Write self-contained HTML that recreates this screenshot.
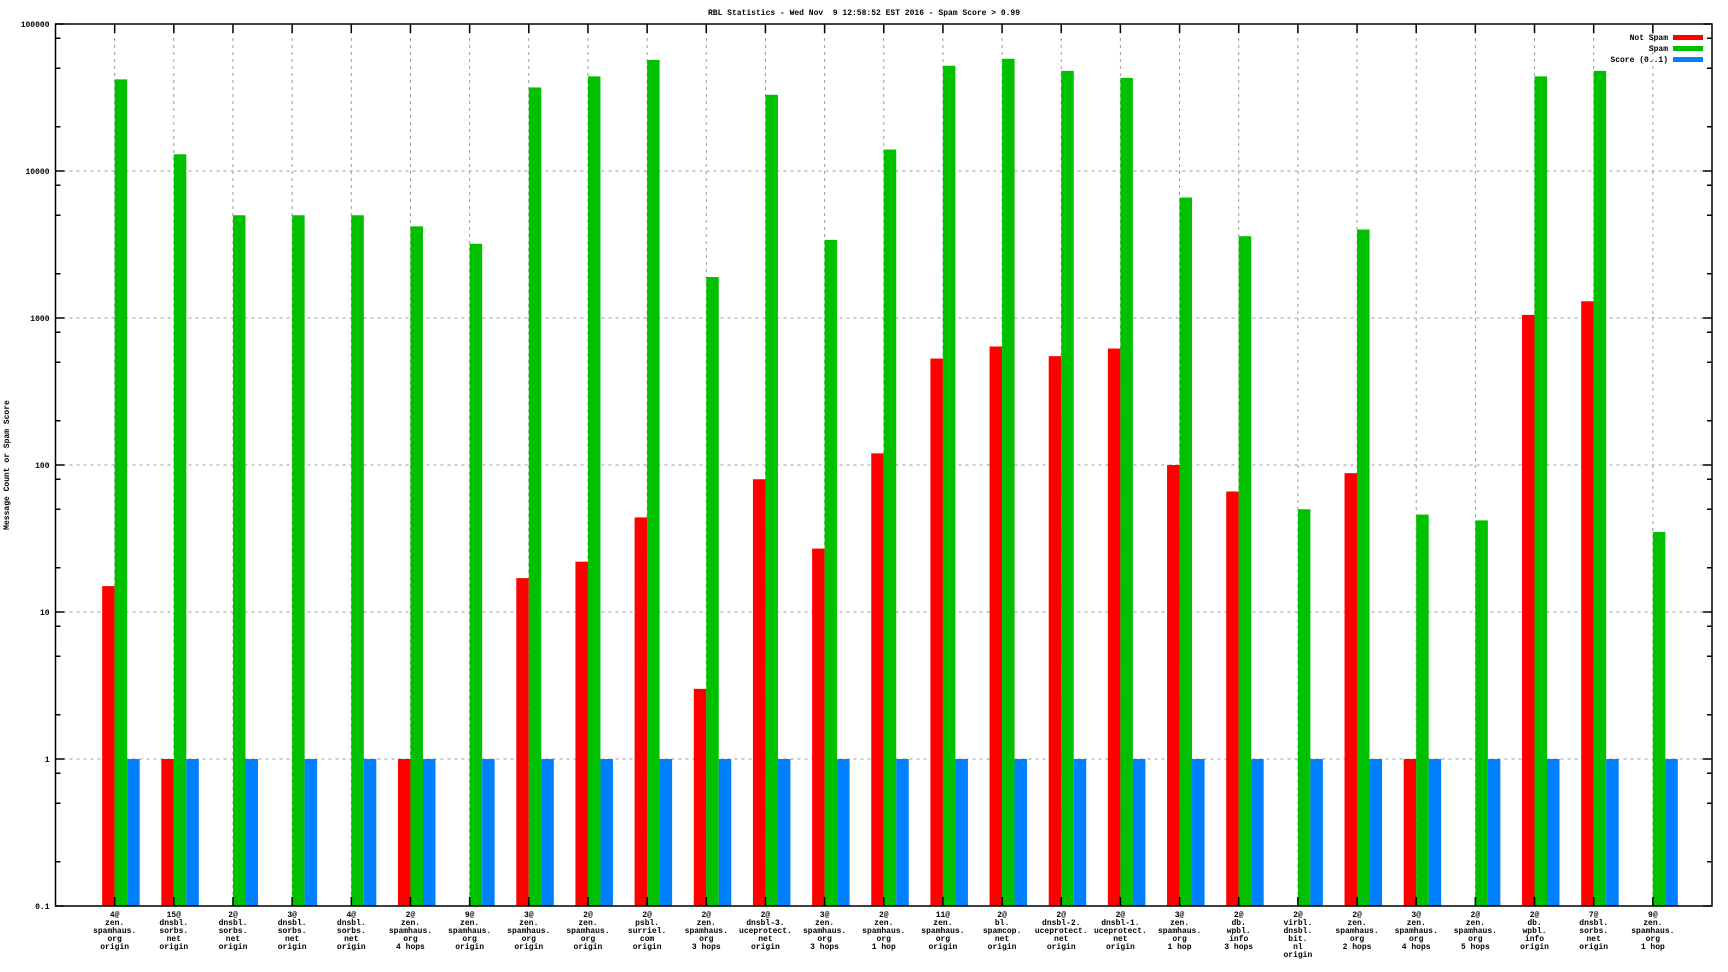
<!DOCTYPE html>
<html><head><meta charset="utf-8"><style>
html,body{margin:0;padding:0;background:#fff;}
svg{display:block;font-family:"Liberation Mono",monospace;font-weight:bold;}
</style></head><body>
<svg id="chart" width="1728" height="972" viewBox="0 0 1728 972" xmlns="http://www.w3.org/2000/svg"></svg>
<script>
const categories = [
"4@|zen.|spamhaus.|org|origin","15@|dnsbl.|sorbs.|net|origin","2@|dnsbl.|sorbs.|net|origin","3@|dnsbl.|sorbs.|net|origin","4@|dnsbl.|sorbs.|net|origin","2@|zen.|spamhaus.|org|4 hops","9@|zen.|spamhaus.|org|origin","3@|zen.|spamhaus.|org|origin","2@|zen.|spamhaus.|org|origin","2@|psbl.|surriel.|com|origin","2@|zen.|spamhaus.|org|3 hops","2@|dnsbl-3.|uceprotect.|net|origin","3@|zen.|spamhaus.|org|3 hops","2@|zen.|spamhaus.|org|1 hop","11@|zen.|spamhaus.|org|origin","2@|bl.|spamcop.|net|origin","2@|dnsbl-2.|uceprotect.|net|origin","2@|dnsbl-1.|uceprotect.|net|origin","3@|zen.|spamhaus.|org|1 hop","2@|db.|wpbl.|info|3 hops","2@|virbl.|dnsbl.|bit.|nl|origin","2@|zen.|spamhaus.|org|2 hops","3@|zen.|spamhaus.|org|4 hops","2@|zen.|spamhaus.|org|5 hops","2@|db.|wpbl.|info|origin","7@|dnsbl.|sorbs.|net|origin","9@|zen.|spamhaus.|org|1 hop"];
const notSpam = [15,1,null,null,null,1,null,17,22,44,3,80,27,120,530,640,550,620,100,66,null,88,1,null,1050,1300,null];
const spam = [42000,13000,5000,5000,5000,4200,3200,37000,44000,57000,1900,33000,3400,14000,52000,58000,48000,43000,6600,3600,50,4000,46,42,44000,48000,35];
const score = [1,1,1,1,1,1,1,1,1,1,1,1,1,1,1,1,1,1,1,1,1,1,1,1,1,1,1];
const yTicks = [0.1,1,10,100,1000,10000,100000];
const yTickLabels = ["0.1","1","10","100","1000","10000","100000"];

const NS="http://www.w3.org/2000/svg";
const svg=document.getElementById('chart');
const L=55.5,R=1712,T=24,B=906;
const n=categories.length;
const step=(R-L)/(n+1);
function x(i){return L+(i+1)*step;}
function y(v){return B-(Math.log10(v)+1)/6*(B-T);}
function mk(tag,attrs,parent){const e=document.createElementNS(NS,tag);for(const k in attrs)e.setAttribute(k,attrs[k]);(parent||svg).appendChild(e);return e;}

const grid=mk('g',{});


yTicks.forEach((v,k)=>{
  if(k>0&&k<yTicks.length-1) mk('line',{x1:L,x2:R,y1:y(v),y2:y(v),stroke:'#999','stroke-dasharray':'3,4'},grid);
});
for(let i=0;i<n;i++) mk('line',{x1:x(i),x2:x(i),y1:T,y2:B,stroke:'#999','stroke-dasharray':'3,4'},grid);

const series=[[notSpam,'#ff0000',-12.5,'not-spam'],[spam,'#00c000',0,'spam'],[score,'#0080ff',12.5,'score']];
series.forEach(([arr,col,off,nm])=>{
  const g=mk('g',{});
  
  
  arr.forEach((v,i)=>{
    if(v==null)return;
    const yy=y(v);
    const r=mk('rect',{x:x(i)+off,y:yy,width:12.5,height:B-yy,fill:col},g);
    
    
  });
});

const ax=mk('g',{});


mk('rect',{x:L,y:T,width:R-L,height:B-T,fill:'none',stroke:'#000','stroke-width':1.5},ax);
yTicks.forEach((v,k)=>{
  const yy=y(v);
  mk('line',{x1:L,x2:L+9,y1:yy,y2:yy,stroke:'#000','stroke-width':1.5},ax);
  mk('line',{x1:R,x2:R-9,y1:yy,y2:yy,stroke:'#000','stroke-width':1.5},ax);
  const t=mk('text',{x:L-6,y:yy+3,'text-anchor':'end','font-size':8},ax);
  t.textContent=yTickLabels[k];
  
  
  if(k<yTicks.length-1)[2,5,8].forEach(m=>{
    const my=y(v*m);
    mk('line',{x1:L,x2:L+5,y1:my,y2:my,stroke:'#000','stroke-width':1.5},ax);
    mk('line',{x1:R,x2:R-5,y1:my,y2:my,stroke:'#000','stroke-width':1.5},ax);
  });
});
for(let i=0;i<n;i++){
  mk('line',{x1:x(i),x2:x(i),y1:T,y2:T+9,stroke:'#000','stroke-width':1.5},ax);
  mk('line',{x1:x(i),x2:x(i),y1:B,y2:B-9,stroke:'#000','stroke-width':1.5},ax);
  const t=mk('text',{'text-anchor':'middle','font-size':8},ax);
  
  
  categories[i].split('|').forEach((s,j)=>{
    const ts=mk('tspan',{x:x(i),y:917+j*8},t);ts.textContent=s;
  });
}

const tt=mk('text',{x:864,y:15,'text-anchor':'middle','font-size':8,style:'white-space:pre'});
tt.textContent='RBL Statistics - Wed Nov  9 12:58:52 EST 2016 - Spam Score > 0.99';


const yt=mk('text',{x:0,y:0,'text-anchor':'middle','font-size':8,transform:'translate(9,465) rotate(-90)'});
yt.textContent='Message Count or Spam Score';



const lg=mk('g',{});


[['Not Spam','#ff0000'],['Spam','#00c000'],['Score (0..1)','#0080ff']].forEach(([lab,col],k)=>{
  const yy=40+k*11;
  const t=mk('text',{x:1668,y:yy,'text-anchor':'end','font-size':8},lg);
  t.textContent=lab;
  
  
  mk('rect',{x:1673,y:yy-5,width:30,height:5,fill:col},lg);
});
</script>
</body></html>
